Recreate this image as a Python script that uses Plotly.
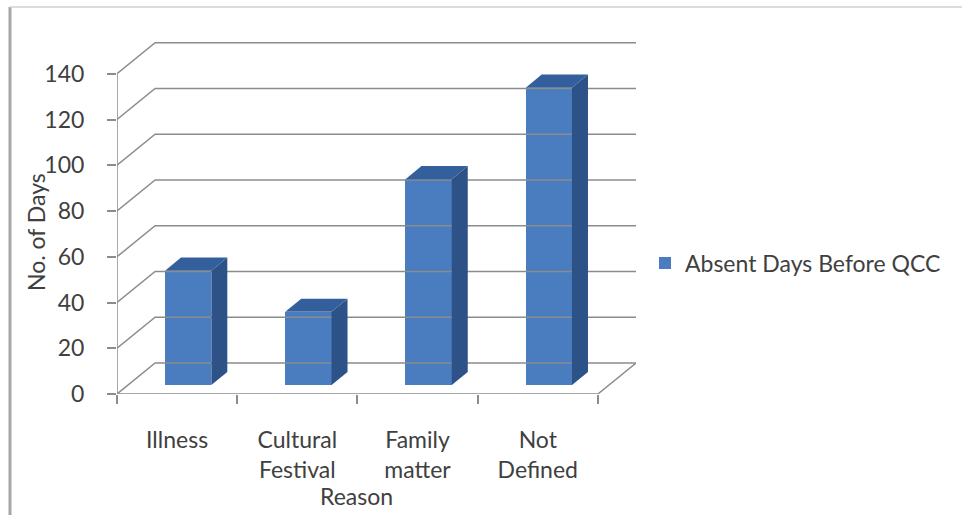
import plotly.graph_objects as go

# ---- data ----
categories = ["Illness", "Cultural<br>Festival", "Family<br>matter", "Not<br>Defined"]
values = [50, 32, 90, 130]
series_name = "Absent Days Before QCC"
y_ticks = [0, 20, 40, 60, 80, 100, 120, 140]
x_title = "Reason"
y_title = "No. of Days"

# ---- style / projection constants ----
W, H = 962, 515
L, R, T, B = 117, 326, 42, 121           # plot area margins (px)
plot_w = W - L - R
plot_h = H - T - B
DX = 0.317                               # depth shift in category units
YMAX = y_ticks[-1]
px_per_unit = 45.75 / 20
DY = 31 / px_per_unit                    # depth shift in value units
YTOP = plot_h / px_per_unit
d1, d2 = 0.29, 0.71                      # bar front / back depth fractions
BW = 0.385                               # bar width (category units)
n = len(categories)
xs = list(range(n))

grid_col = "#8c8c8c"
front_col = "#4a7dbf"
side_col = "#2d5287"
top_col = "#33609c"
txt_col = "#404040"
FONT = "Lato"

fig = go.Figure()

def line(xv, yv, color=grid_col, width=1.5):
    fig.add_trace(go.Scatter(x=xv, y=yv, mode="lines", line=dict(color=color, width=width),
                             showlegend=False, hoverinfo="skip"))

x0, x1 = -0.5, n - 0.5
# side wall diagonals + back wall gridlines
for v in y_ticks:
    line([x0, x0 + DX, x1 + DX], [v, v + DY, v + DY])
# floor
line([x0, x1, x1 + DX], [0, 0, DY])
# front value axis line
line([x0, x0], [0, YMAX])

# bars: front faces via Bar trace
fig.add_trace(go.Bar(
    x=[i + d1 * DX for i in xs], y=values, base=[d1 * DY] * n, width=BW,
    marker=dict(color=front_col, line=dict(width=0)), name=series_name,
    showlegend=True, hoverinfo="skip"))

for i, v in zip(xs, values):
    xl, xr = i - BW / 2, i + BW / 2
    # right side face
    fig.add_trace(go.Scatter(
        x=[xr + d1 * DX, xr + d2 * DX, xr + d2 * DX, xr + d1 * DX, xr + d1 * DX],
        y=[d1 * DY, d2 * DY, v + d2 * DY, v + d1 * DY, d1 * DY],
        fill="toself", fillcolor=side_col, mode="lines", line=dict(width=0, color=side_col),
        showlegend=False, hoverinfo="skip"))
    # top face
    fig.add_trace(go.Scatter(
        x=[xl + d1 * DX, xr + d1 * DX, xr + d2 * DX, xl + d2 * DX, xl + d1 * DX],
        y=[v + d1 * DY, v + d1 * DY, v + d2 * DY, v + d2 * DY, v + d1 * DY],
        fill="toself", fillcolor=top_col, mode="lines", line=dict(width=0, color=top_col),
        showlegend=False, hoverinfo="skip"))

def ppx(px):
    return (px - L) / plot_w

def ppy(py):
    return (H - B - py) / plot_h

fig.update_layout(
    width=W, height=H,
    margin=dict(l=L, r=R, t=T, b=B, autoexpand=False),
    paper_bgcolor="white", plot_bgcolor="white",
    font=dict(family=FONT, size=23, color=txt_col),
    bargap=0,
    xaxis=dict(range=[x0, x1 + DX], tickmode="array", tickvals=xs, ticktext=categories,
               showgrid=False, zeroline=False, showline=False, ticks="",
               ticklabelstandoff=30, fixedrange=True, automargin=False,
               minor=dict(tickmode="array", tickvals=[x0 + k for k in range(n + 1)],
                          ticks="outside", ticklen=9, tickcolor=grid_col, tickwidth=1.5,
                          showgrid=False)),
    yaxis=dict(range=[0, YTOP], tickmode="array", tickvals=y_ticks,
               showgrid=False, zeroline=False, showline=False,
               ticks="outside", ticklen=9, tickcolor=grid_col, tickwidth=1.5,
               ticklabelstandoff=18, fixedrange=True, automargin=False),
    legend=dict(x=ppx(645), y=ppy(263), xanchor="left", yanchor="middle",
                font=dict(size=23, color=txt_col), bgcolor="rgba(0,0,0,0)",
                itemwidth=30),
    annotations=[
        dict(text=y_title, xref="paper", yref="paper", x=ppx(36), y=ppy(232),
             textangle=-90, showarrow=False, xanchor="center", yanchor="middle",
             font=dict(size=23, color=txt_col)),
        dict(text=x_title, xref="paper", yref="paper", x=ppx(356), y=ppy(496),
             showarrow=False, xanchor="center", yanchor="middle",
             font=dict(size=23, color=txt_col)),
    ],
    shapes=[
        dict(type="line", xref="paper", yref="paper", x0=ppx(10), x1=ppx(10),
             y0=ppy(7), y1=ppy(515), line=dict(color="#a6a6a6", width=3)),
        dict(type="line", xref="paper", yref="paper", x0=ppx(10), x1=ppx(962),
             y0=ppy(7), y1=ppy(7), line=dict(color="#d0d0d0", width=1.5)),
    ],
)

fig.write_html("out.html")
